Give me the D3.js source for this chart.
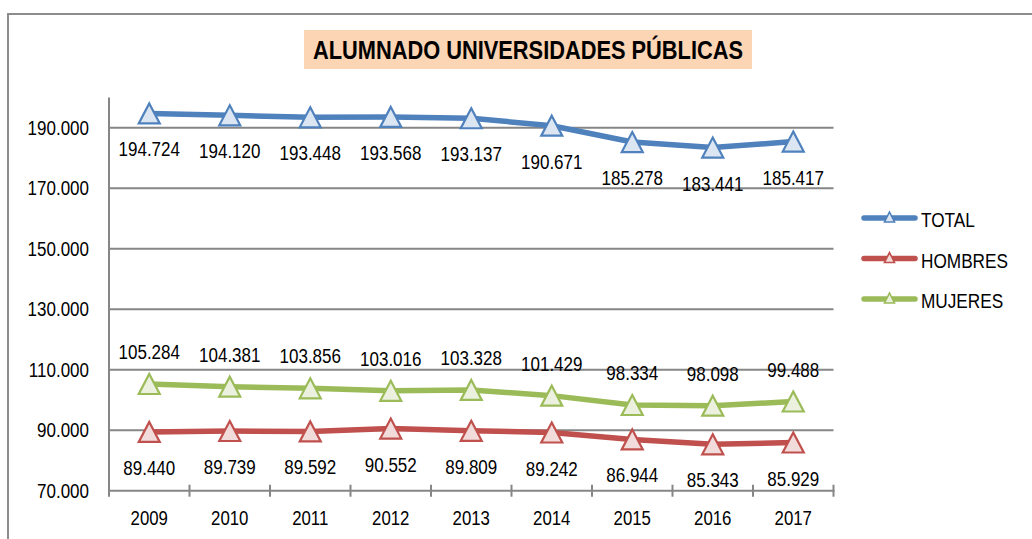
<!DOCTYPE html>
<html>
<head>
<meta charset="utf-8">
<script src="https://cdn.jsdelivr.net/npm/d3@7/dist/d3.min.js"></script>
<style>
  html, body { margin: 0; padding: 0; background: #fff; }
  svg { display: block; }
  text { font-family: "Liberation Sans Narrow", "Arial Narrow", "Liberation Sans", Arial, sans-serif; }
</style>
</head>
<body>
<svg id="chart" width="1032" height="539"></svg>
<script>
// Alumnado matriculado en universidades públicas, 2009-2017
const years = ["2009", "2010", "2011", "2012", "2013", "2014", "2015", "2016", "2017"];
const total   = [194724, 194120, 193448, 193568, 193137, 190671, 185278, 183441, 185417];
const hombres = [89440, 89739, 89592, 90552, 89809, 89242, 86944, 85343, 85929];
const mujeres = [105284, 104381, 103856, 103016, 103328, 101429, 98334, 98098, 99488];
const yTicks  = [70000, 90000, 110000, 130000, 150000, 170000, 190000];
const seriesNames = ["TOTAL", "HOMBRES", "MUJERES"];

const series = [
  { name: seriesNames[0], values: total,   stroke: "#4F81BD", fill: "#DCE6F2", labelPos: "below" },
  { name: seriesNames[1], values: hombres, stroke: "#C0504D", fill: "#F2DCDB", labelPos: "below" },
  { name: seriesNames[2], values: mujeres, stroke: "#9BBB59", fill: "#EBF1DE", labelPos: "above" }
];

const fmt = d3.formatLocale({ decimal: ",", thousands: ".", grouping: [3], currency: ["", "€"] }).format(",.0f");

// squeeze text horizontally to get a condensed face
function condense(sel, k) {
  sel.each(function () {
    const w = this.getComputedTextLength();
    d3.select(this).attr("textLength", w * k).attr("lengthAdjust", "spacingAndGlyphs");
  });
}

const svg = d3.select("#chart");

// chart frame
svg.append("rect")
  .attr("x", 8).attr("y", 14)
  .attr("width", 1040).attr("height", 560)
  .attr("fill", "#fff")
  .attr("stroke", "#8c8c8c").attr("stroke-width", 2);

// title
const titleG = svg.append("g");
titleG.append("rect")
  .attr("x", 304).attr("y", 30).attr("width", 448).attr("height", 39)
  .attr("fill", "#FCD5B4");
titleG.append("text")
  .attr("x", 528).attr("y", 59)
  .attr("text-anchor", "middle")
  .attr("font-size", 26).attr("font-weight", "bold")
  .attr("fill", "#000")
  .attr("textLength", 430).attr("lengthAdjust", "spacingAndGlyphs")
  .text("ALUMNADO UNIVERSIDADES PÚBLICAS");

const plot = { left: 109, right: 833.5, top: 97.5, bottom: 490.7 };

const x = d3.scaleBand().domain(years).range([plot.left, plot.right]).padding(0);
const y = d3.scaleLinear().domain([70000, 200000]).range([plot.bottom, plot.top]);
const cx = d => x(d) + x.bandwidth() / 2;

// horizontal gridlines
svg.append("g")
  .selectAll("line")
  .data(yTicks.slice(1))
  .join("line")
  .attr("x1", plot.left).attr("x2", plot.right)
  .attr("y1", d => y(d)).attr("y2", d => y(d))
  .attr("stroke", "#868686").attr("stroke-width", 2);

// y axis
const yAxis = svg.append("g")
  .attr("transform", `translate(${plot.left},0)`)
  .call(d3.axisLeft(y).tickValues(yTicks).tickSize(0).tickPadding(20).tickFormat(fmt));
yAxis.select(".domain").remove();
yAxis.selectAll("text").attr("font-size", 20).attr("fill", "#000")
  .attr("font-family", null).call(condense, 0.85);
svg.append("line")
  .attr("x1", plot.left).attr("x2", plot.left)
  .attr("y1", plot.top).attr("y2", plot.bottom)
  .attr("stroke", "#868686").attr("stroke-width", 2);

// x axis
const xAxis = svg.append("g")
  .attr("transform", `translate(0,${plot.bottom})`)
  .call(d3.axisBottom(x).tickSize(0).tickPadding(20));
xAxis.select(".domain").remove();
xAxis.selectAll("text").attr("font-size", 20).attr("fill", "#000")
  .attr("font-family", null).call(condense, 0.84);
svg.append("line")
  .attr("x1", plot.left - 1).attr("x2", plot.right + 1)
  .attr("y1", plot.bottom).attr("y2", plot.bottom)
  .attr("stroke", "#868686").attr("stroke-width", 2);
// category boundary ticks
const boundaries = years.map(d => x(d)).concat([plot.right]);
svg.append("g")
  .selectAll("line")
  .data(boundaries)
  .join("line")
  .attr("x1", d => d).attr("x2", d => d)
  .attr("y1", plot.bottom - 6).attr("y2", plot.bottom + 6)
  .attr("stroke", "#868686").attr("stroke-width", 2);

// triangle marker path centred on 0,0
function tri(w, h) {
  return `M0,${-h / 2}L${w / 2},${h / 2}L${-w / 2},${h / 2}Z`;
}

const line = d3.line().x((d, i) => cx(years[i])).y(d => y(d));

series.forEach(s => {
  const g = svg.append("g");
  g.append("path")
    .datum(s.values)
    .attr("d", line)
    .attr("fill", "none")
    .attr("stroke", s.stroke).attr("stroke-width", 5.5)
    .attr("stroke-linejoin", "round").attr("stroke-linecap", "round");
  g.selectAll("path.m")
    .data(s.values)
    .join("path")
    .attr("class", "m")
    .attr("transform", (d, i) => `translate(${cx(years[i])},${y(d)})`)
    .attr("d", tri(21, 20))
    .attr("fill", s.fill)
    .attr("stroke", s.stroke).attr("stroke-width", 2.2)
    .attr("stroke-linejoin", "miter");
  g.selectAll("text")
    .data(s.values)
    .join("text")
    .attr("x", (d, i) => cx(years[i]))
    .attr("y", d => s.labelPos === "below" ? y(d) + 43 : y(d) - 25)
    .attr("text-anchor", "middle")
    .attr("font-size", 20).attr("fill", "#000")
    .text(d => fmt(d))
    .call(condense, 0.85);
});

// legend
const legend = svg.append("g");
series.forEach((s, i) => {
  const ly = 218 + i * 40.5;
  legend.append("line")
    .attr("x1", 864).attr("x2", 915)
    .attr("y1", ly).attr("y2", ly)
    .attr("stroke", s.stroke).attr("stroke-width", 5.5)
    .attr("stroke-linecap", "round");
  legend.append("path")
    .attr("transform", `translate(889.5,${ly - 1})`)
    .attr("d", tri(10, 10))
    .attr("fill", s.fill)
    .attr("stroke", s.stroke).attr("stroke-width", 1.6);
  legend.append("text")
    .attr("x", 921).attr("y", ly + 9)
    .attr("font-size", 20).attr("fill", "#000")
    .text(s.name)
    .call(condense, 0.86);
});
</script>
</body>
</html>
